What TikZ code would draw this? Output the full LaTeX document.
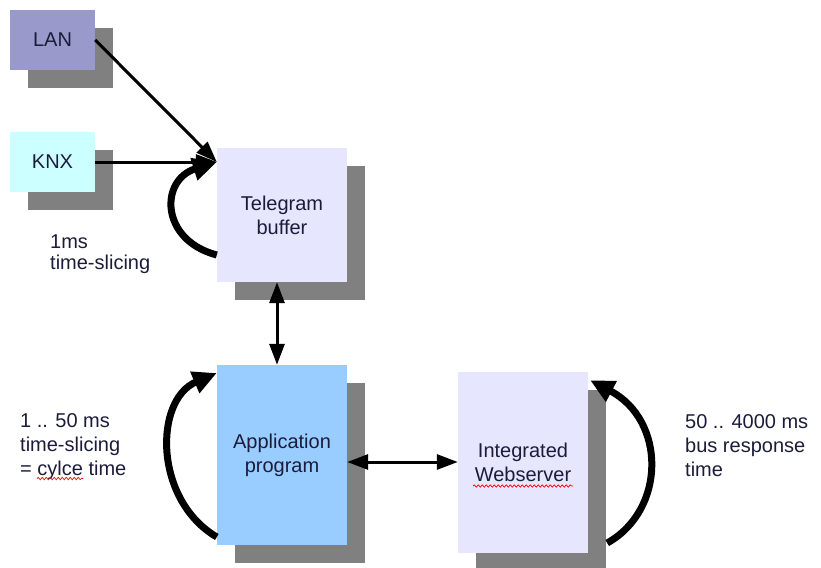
\documentclass[tikz,border=0pt]{standalone}
\usepackage{fontspec}
\setmainfont{Liberation Sans}
\usetikzlibrary{shapes,arrows.meta,positioning,calc,shadows,decorations.pathmorphing}
\definecolor{lanblue}{RGB}{153,153,204}
\definecolor{knxcyan}{RGB}{204,255,255}
\definecolor{bufferlilac}{RGB}{230,230,255}
\definecolor{appblue}{RGB}{153,204,255}
\definecolor{shadowgray}{RGB}{128,128,128}
\definecolor{textnavy}{RGB}{28,28,58}

\begin{document}
\begin{tikzpicture}[
    x=1pt, y=-1pt,
    font=\fontsize{20}{24}\selectfont,
    box/.style={rectangle, minimum width=130pt, text=textnavy, align=center,
                drop shadow={shadow xshift=18pt, shadow yshift=-18pt, fill=shadowgray, opacity=1}},
    port/.style={box, minimum width=85pt, minimum height=60pt},
    arrow/.style={-{Triangle[length=21pt,width=15pt]}, line width=3pt},
    darrow/.style={{Triangle[length=21pt,width=15pt]}-{Triangle[length=21pt,width=15pt]}, line width=3pt},
    loop/.style={-{Triangle[length=24pt,width=22pt]}, line width=7pt},
    note/.style={text=textnavy, align=left, anchor=north west, inner sep=0pt},
    typo/.style={red, line width=0.7pt, decorate, decoration={snake, amplitude=1.2pt, segment length=4pt}}
]
\useasboundingbox (0,0) rectangle (821,567);

% inputs
\node[port, fill=lanblue] (lan) at (52.5,40) {LAN};
\node[port, fill=knxcyan] (knx) at (52.5,162) {KNX};

% processing blocks
\node[box, fill=bufferlilac, minimum height=134pt] (buffer) at (282,215) {Telegram\\buffer};
\node[box, fill=appblue, minimum height=180pt] (app) at (282,455) {Application\\program};
\node[box, fill=bufferlilac, minimum height=181pt] (web) at (523,462) {Integrated\\Webserver};

% data flow
\draw[arrow] (lan.east) -- ([yshift=53pt]buffer.west);
\draw[arrow] (knx.east) -- ([yshift=53pt]buffer.west);
\draw[darrow] ([xshift=-5pt]buffer.south) -- ([xshift=-5pt]app.north);
\draw[darrow] (app.east |- web.west) -- (web.west);

% cycles
\draw[loop] ([yshift=-40pt]buffer.west) .. controls +(-57,-15) and +(-57,18) .. ([yshift=53pt]buffer.west);
\draw[loop] ([yshift=-82pt]app.west) .. controls +(-63,-37) and +(-63,27) .. ([yshift=82pt]app.west);
\draw[loop] ([xshift=19pt,yshift=-81pt]web.east) .. controls +(59,-33) and +(76,40) .. ([xshift=2pt,yshift=-9pt]web.north east);

% timing notes
\node[note, font=\fontsize{20}{21}\selectfont] (slice1) at (50,235) {1ms\\time-slicing};
\node[note] (slice2) at (20,413) {1 .. 50 ms\\time-slicing\\= cylce time};
\node[note] (resp) at (685,414) {50 .. 4000 ms\\bus response\\time};

% spell-check marks
\draw[typo] ([xshift=17pt,yshift=1pt]slice2.south west) -- ([xshift=63pt,yshift=1pt]slice2.south west);
\draw[typo] ([xshift=-50pt,yshift=-24pt]web.center) -- ([xshift=50pt,yshift=-24pt]web.center);

\end{tikzpicture}
\end{document}
